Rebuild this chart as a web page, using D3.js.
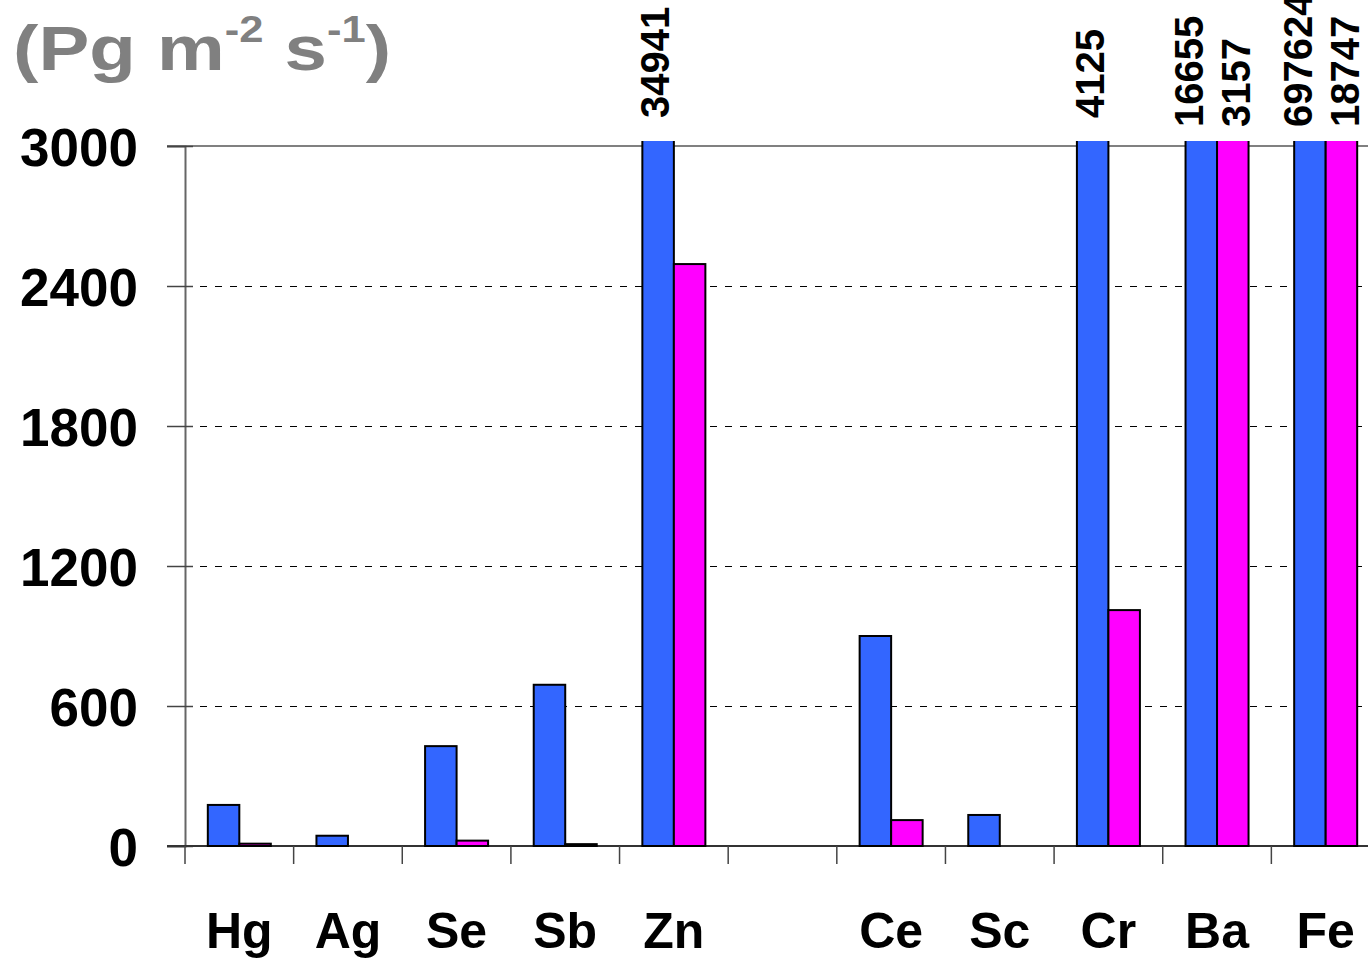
<!DOCTYPE html>
<html>
<head>
<meta charset="utf-8">
<script src="https://cdn.jsdelivr.net/npm/d3@7"></script>
<style>
  body { margin: 0; background: #fff; }
  text { font-family: Arial, "Liberation Sans", sans-serif; font-weight: bold; }
</style>
</head>
<body>
<svg width="1368" height="960"></svg>
<script>
const svg = d3.select('svg');

const elements = ['Hg', 'Ag', 'Se', 'Sb', 'Zn', '', 'Ce', 'Sc', 'Cr', 'Ba', 'Fe'];
const blueValues = [176, 44, 428, 691, 34941, 0, 900, 133, 4125, 16655, 697624];
const magentaValues = [10, 0, 23, 8, 2494, 0, 111, 0, 1011, 3157, 18747];
const yTicks = [0, 600, 1200, 1800, 2400, 3000];
const colors = ['#3366ff', '#ff00ff'];

const yMax = 3000;
const x = d3.scaleBand().domain(elements).range([185, 1380]).paddingInner(0.42).paddingOuter(0.21);
const y = d3.scaleLinear().domain([0, yMax]).range([846, 146]);
const sub = d3.scaleBand().domain([0, 1]).range([0, x.bandwidth()]);

// title, stretched like the original
const title = svg.append('text')
  .attr('transform', 'translate(13,70) scale(1.21,1)')
  .style('font-size', '63px')
  .style('fill', '#808080');
title.append('tspan').text('(Pg m');
title.append('tspan').attr('dy', -28).style('font-size', '36px').text('-2');
title.append('tspan').attr('dy', 28).text(' s');
title.append('tspan').attr('dy', -28).style('font-size', '36px').text('-1');
title.append('tspan').attr('dy', 28).text(')');

// grid
svg.append('g').selectAll('line')
  .data(yTicks.filter(d => d > 0 && d < yMax))
  .join('line')
  .attr('x1', 185).attr('x2', 1368)
  .attr('y1', d => y(d) + 0.5).attr('y2', d => y(d) + 0.5)
  .attr('stroke', '#000').attr('stroke-width', 1)
  .attr('stroke-dasharray', '7,8');

svg.append('line')
  .attr('x1', 167).attr('x2', 1368)
  .attr('y1', y(yMax)).attr('y2', y(yMax))
  .attr('stroke', '#808080').attr('stroke-width', 2);

// y axis
const yAxis = svg.append('g')
  .attr('transform', 'translate(185,0)')
  .call(d3.axisLeft(y).tickValues(yTicks).tickFormat(d3.format('d')).tickSize(18).tickPadding(29));
yAxis.select('.domain').attr('stroke', '#666').attr('stroke-width', 2);
yAxis.selectAll('.tick line').attr('x1', 8).attr('stroke', '#444').attr('stroke-width', 1.5);
yAxis.selectAll('.tick text')
  .style('font-size', '53px').style('font-family', 'Arial, "Liberation Sans", sans-serif')
  .style('font-weight', 'bold').attr('fill', '#000').attr('dy', '0.36em');

// x axis ticks at slot boundaries
const bounds = elements.map(e => x(e) - x.step() * x.paddingInner() / 2);
bounds.push(bounds[bounds.length - 1] + x.step());
svg.append('line')
  .attr('x1', 167).attr('x2', 1368)
  .attr('y1', y(0)).attr('y2', y(0))
  .attr('stroke', '#333').attr('stroke-width', 2);
svg.append('g').selectAll('line')
  .data(bounds)
  .join('line')
  .attr('x1', d => d).attr('x2', d => d)
  .attr('y1', y(0)).attr('y2', y(0) + 18)
  .attr('stroke', '#444').attr('stroke-width', 1.5);

svg.append('g').selectAll('text')
  .data(elements)
  .join('text')
  .attr('x', d => x(d) + x.bandwidth() / 2)
  .attr('y', 948)
  .attr('text-anchor', 'middle')
  .style('font-size', '50px')
  .text(d => d);

// bars
svg.append('clipPath').attr('id', 'clip')
  .append('rect').attr('x', 0).attr('y', y(yMax) - 5).attr('width', 1368).attr('height', 960);

const rows = [];
elements.forEach((e, i) => {
  const both = blueValues[i] > yMax && magentaValues[i] > yMax;
  [blueValues[i], magentaValues[i]].forEach((v, s) => rows.push({ e, s, v, both }));
});

svg.append('g').attr('clip-path', 'url(#clip)')
  .selectAll('rect')
  .data(rows.filter(d => d.v > 0))
  .join('rect')
  .attr('x', d => x(d.e) + sub(d.s))
  .attr('width', sub.bandwidth())
  .attr('y', d => y(Math.min(d.v, yMax * 1.05)))
  .attr('height', d => y(0) - y(Math.min(d.v, yMax * 1.05)))
  .attr('fill', d => colors[d.s])
  .attr('stroke', '#000').attr('stroke-width', 2);

// labels for bars above the axis
function labelX(d) {
  if (d.both) return x(d.e) + x.bandwidth() / 2 + (d.s === 0 ? -29 : 18);
  return x(d.e) + sub(d.s) + sub.bandwidth() / 2 - 4;
}
svg.append('g').selectAll('text')
  .data(rows.filter(d => d.v > yMax))
  .join('text')
  .attr('transform', d => `translate(${labelX(d) + 15},${d.both ? 127 : 118}) rotate(-90)`)
  .style('font-size', '40px')
  .text(d => d.v);
</script>
</body>
</html>
